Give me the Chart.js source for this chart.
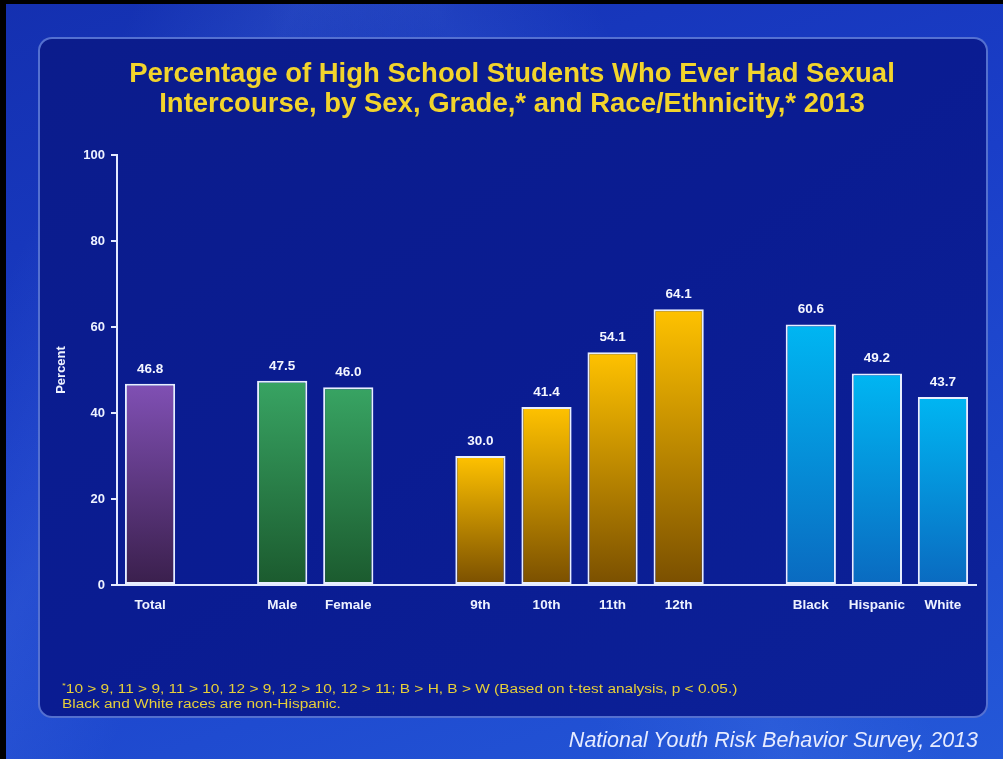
<!DOCTYPE html>
<html>
<head>
<meta charset="utf-8">
<script src="https://cdn.jsdelivr.net/npm/chart.js@4.4.1/dist/chart.umd.min.js"></script>
<style>
    html, body { margin: 0; padding: 0; }
    body {
        width: 1003px; height: 759px; overflow: hidden; position: relative;
        font-family: Arial, "Liberation Sans", sans-serif;
        background: linear-gradient(160deg, #1430b0 0%, #1a3ec8 45%, #2458d8 100%);
    }
    #frame {
        position: absolute; left: 0; top: 0; width: 1003px; height: 759px;
        box-sizing: border-box; border-top: 4px solid #000; border-left: 6px solid #000;
    }
    #streak {
        position: absolute; left: 0; top: 0; width: 1003px; height: 759px;
        background: linear-gradient(115deg, rgba(255,255,255,0) 10%, rgba(120,170,255,0.12) 22%, rgba(255,255,255,0) 34%),
                    linear-gradient(65deg, rgba(255,255,255,0) 45%, rgba(120,170,255,0.10) 58%, rgba(255,255,255,0) 70%);
    }
    #panel {
        position: absolute; left: 38px; top: 37px; width: 950px; height: 681px;
        box-sizing: border-box; border: 2px solid rgba(110,140,230,0.75); border-radius: 14px;
        background: linear-gradient(145deg, #0b1c8c 0%, #0a1c92 50%, #0c2198 100%);
    }
    #chart { position: absolute; left: 0; top: 0; }
    #note {
        position: absolute; left: 62px; top: 678px; color: #e6cf3a;
        font-size: 12.5px; line-height: 15px; white-space: nowrap;
        transform: scaleX(1.235); transform-origin: left top;
    }
    #note sup { font-size: 8px; }
    #source {
        position: absolute; right: 25px; top: 728px; color: #e6ebff;
        font-size: 21.5px; font-style: italic; white-space: nowrap;
    }
</style>
</head>
<body>
<div id="streak"></div>
<div id="panel"></div>
<canvas id="chart" width="1003" height="759"></canvas>
<div id="note"><sup>*</sup>10 &gt; 9, 11 &gt; 9, 11 &gt; 10, 12 &gt; 9, 12 &gt; 10, 12 &gt; 11; B &gt; H, B &gt; W (Based on t-test analysis, p &lt; 0.05.)<br>Black and White races are non-Hispanic.</div>
<div id="source">National Youth Risk Behavior Survey, 2013</div>
<div id="frame"></div>
<script>
// empty labels keep the gaps between groups
const categories = ['Total', '', 'Male', 'Female', '', '9th', '10th', '11th', '12th', '', 'Black', 'Hispanic', 'White'];
const percents = [46.8, null, 47.5, 46.0, null, 30.0, 41.4, 54.1, 64.1, null, 60.6, 49.2, 43.7];
const yTicks = [0, 20, 40, 60, 80, 100];
const titleLines = ['Percentage of High School Students Who Ever Had Sexual',
                    'Intercourse, by Sex, Grade,* and Race/Ethnicity,* 2013'];

// top / bottom colours of each bar's gradient
const barColors = [
    ['#8050b4', '#3a1f4c'], null,
    ['#38a463', '#1b5a2e'], ['#38a463', '#1b5a2e'], null,
    ['#ffc200', '#7a4f00'], ['#ffc200', '#7a4f00'], ['#ffc200', '#7a4f00'], ['#ffc200', '#7a4f00'], null,
    ['#00b6f2', '#0a6ac0'], ['#00b6f2', '#0a6ac0'], ['#00b6f2', '#0a6ac0']
];

const FONT = 'Arial, "Liberation Sans", sans-serif';
const AXIS = '#e4eaff';

function barFill(ctx) {
    const c = barColors[ctx.dataIndex];
    if (!c) return 'transparent';
    const chart = ctx.chart;
    if (!chart.chartArea) return c[0];
    const y = chart.scales.y;
    const top = y.getPixelForValue(percents[ctx.dataIndex]);
    const g = chart.ctx.createLinearGradient(0, top, 0, y.getPixelForValue(0));
    g.addColorStop(0, c[0]);
    g.addColorStop(1, c[1]);
    return g;
}

const valueLabels = {
    id: 'valueLabels',
    afterDatasetsDraw(chart) {
        const ctx = chart.ctx;
        ctx.save();
        ctx.fillStyle = '#f4f6ff';
        ctx.font = 'bold 13.5px ' + FONT;
        ctx.textAlign = 'center';
        ctx.textBaseline = 'bottom';
        chart.getDatasetMeta(0).data.forEach((bar, i) => {
            if (percents[i] == null) return;
            ctx.fillText(percents[i].toFixed(1), bar.x, bar.y - 8);
        });
        ctx.restore();
    }
};

new Chart(document.getElementById('chart'), {
    type: 'bar',
    data: {
        labels: categories,
        datasets: [{
            data: percents,
            backgroundColor: barFill,
            borderColor: '#e8eeff',
            borderWidth: 2,
            borderSkipped: false,
            barPercentage: 0.76,
            categoryPercentage: 1
        }]
    },
    options: {
        responsive: false,
        animation: false,
        layout: { padding: { top: 40, right: 27, left: 48, bottom: 0 } },
        plugins: {
            legend: { display: false },
            tooltip: { enabled: false },
            title: {
                display: true,
                text: titleLines,
                color: '#f2d42c',
                font: { family: FONT, size: 27.5, weight: 'bold', lineHeight: 1.09 },
                padding: { top: 19, bottom: 36 }
            }
        },
        scales: {
            x: {
                grid: { display: false, drawTicks: false },
                border: { color: AXIS, width: 2 },
                ticks: { color: '#eef2ff', font: { family: FONT, size: 13.5, weight: 'bold' }, padding: 12, maxRotation: 0, autoSkip: false },
                afterFit(scale) { scale.height = 174; }
            },
            y: {
                min: 0, max: 100,
                afterBuildTicks(scale) { scale.ticks = yTicks.map(v => ({ value: v })); },
                grid: { drawOnChartArea: false, drawTicks: true, tickLength: 6, color: AXIS, lineWidth: 2 },
                border: { color: AXIS, width: 2 },
                ticks: { color: '#eef2ff', font: { family: FONT, size: 13, weight: 'bold' }, padding: 6 },
                title: {
                    display: true, text: 'Percent', color: '#eef2ff',
                    font: { family: FONT, size: 13, weight: 'bold' },
                    padding: { top: 6, bottom: 0 }
                },
                afterFit(scale) { scale.width = 69; }
            }
        }
    },
    plugins: [valueLabels]
});
</script>
</body>
</html>
